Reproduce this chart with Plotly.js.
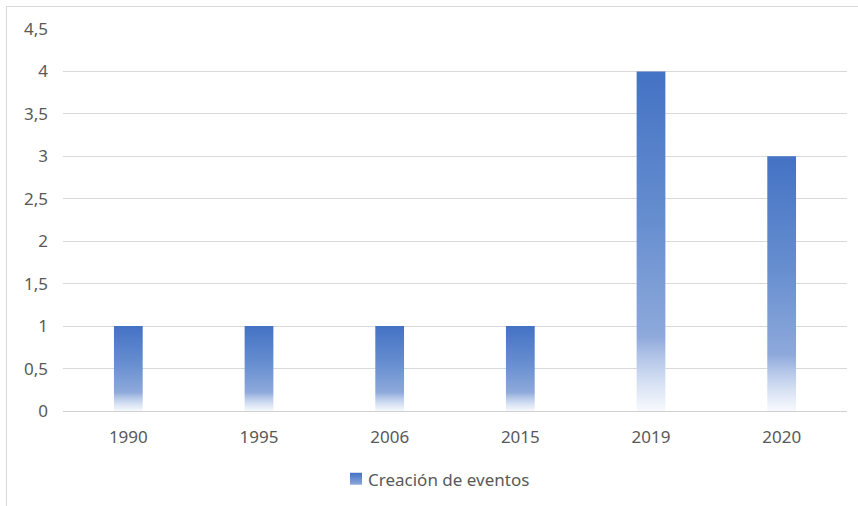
<!DOCTYPE html>
<html>
<head>
<meta charset="utf-8">
<script src="https://cdn.plot.ly/plotly-3.0.1.min.js"></script>
<style>
  html, body { margin: 0; padding: 0; background: #fff; }
  #wrap { position: relative; width: 858px; height: 506px; overflow: hidden; }
  #chart { position: absolute; left: 0; top: 0; width: 858px; height: 506px; }
  #frame { position: absolute; left: 6px; top: 6px; width: 870px; height: 520px;
           border-left: 1px solid #D9D9D9; border-top: 1px solid #D9D9D9; pointer-events: none; }
</style>
</head>
<body>
<div id="wrap">
  <div id="chart"></div>
  <div id="frame"></div>
</div>
<script>
const years = ['1990', '1995', '2006', '2015', '2019', '2020'];
const eventos = [1, 1, 1, 1, 4, 3];
const seriesName = 'Creación de eventos';

const trace = {
  type: 'bar',
  x: years,
  y: eventos,
  name: seriesName,
  marker: { color: '#4472C4', line: { width: 0 } },
  showlegend: true,
  hoverinfo: 'x+y'
};

const font = { family: 'Noto Sans, Open Sans, sans-serif', size: 17, color: '#595959' };

const layout = {
  width: 858,
  height: 506,
  margin: { l: 63, r: 11, t: 29, b: 95 },
  paper_bgcolor: '#ffffff',
  plot_bgcolor: '#ffffff',
  separators: ',.',
  bargap: 0.78,
  font: font,
  showlegend: true,
  legend: {
    orientation: 'h',
    x: 0.5, xanchor: 'center',
    y: -0.12, yanchor: 'middle',
    font: font
  },
  xaxis: {
    type: 'category',
    showgrid: false,
    zeroline: false,
    showline: true,
    linecolor: '#D0D0D0',
    linewidth: 1,
    ticks: '',
    ticklabelstandoff: 11,
    tickfont: font,
    fixedrange: true
  },
  yaxis: {
    range: [0, 4.5],
    dtick: 0.5,
    tick0: 0,
    showgrid: true,
    gridcolor: '#D9D9D9',
    gridwidth: 1,
    zeroline: false,
    showline: false,
    ticks: '',
    ticklabelstandoff: 14,
    tickfont: font,
    fixedrange: true
  }
};

Plotly.newPlot('chart', [trace], layout, { displayModeBar: false, staticPlot: true }).then(function (gd) {
  const svg = gd.querySelector('svg.main-svg');
  const ns = 'http://www.w3.org/2000/svg';
  let defs = svg.querySelector('defs');
  if (!defs) { defs = document.createElementNS(ns, 'defs'); svg.insertBefore(defs, svg.firstChild); }
  function addGrad(id, stops) {
    const g = document.createElementNS(ns, 'linearGradient');
    g.setAttribute('id', id);
    g.setAttribute('x1', '0'); g.setAttribute('y1', '0');
    g.setAttribute('x2', '0'); g.setAttribute('y2', '1');
    stops.forEach(function (s) {
      const st = document.createElementNS(ns, 'stop');
      st.setAttribute('offset', s[0]);
      st.setAttribute('stop-color', s[1]);
      g.appendChild(st);
    });
    defs.appendChild(g);
  }
  addGrad('barGrad', [
    [0, '#4472C4'], [0.45, '#678FD0'], [0.78, '#8EA9DB'], [0.84, '#B2C5E8'], [0.93, '#DCE5F5'], [1, '#F7F9FD']
  ]);
  addGrad('legGrad', [[0, '#4472C4'], [1, '#8EA9DB']]);
  gd.querySelectorAll('.trace.bars .point path').forEach(function (p) {
    p.style.fill = 'url(#barGrad)';
  });
  gd.querySelectorAll('.legendpoints path').forEach(function (p) {
    p.style.fill = 'url(#legGrad)';
  });

  // Legend position tweak: text starts at x=368, centred at y=479; symbol just before it
  const legend = gd.querySelector('.legend');
  const text = gd.querySelector('.legend .legendtext');
  if (legend && text) {
    const r = text.getBoundingClientRect();
    const dx = 368 - r.left;
    const dy = 479 - (r.top + r.height / 2);
    const tr = legend.getAttribute('transform') || '';
    const m = /translate\(\s*([-\d.]+)[ ,]+([-\d.]+)\s*\)/.exec(tr);
    if (m) {
      legend.setAttribute('transform', 'translate(' + (parseFloat(m[1]) + dx) + ',' + (parseFloat(m[2]) + dy) + ')');
    }
    const pts = gd.querySelector('.legend .legendpoints');
    if (pts) {
      const pr = pts.getBoundingClientRect();
      const sx = 362 - pr.right;
      const old = pts.getAttribute('transform') || '';
      pts.setAttribute('transform', 'translate(' + sx + ',0) ' + old);
    }
  }
});
</script>
</body>
</html>
